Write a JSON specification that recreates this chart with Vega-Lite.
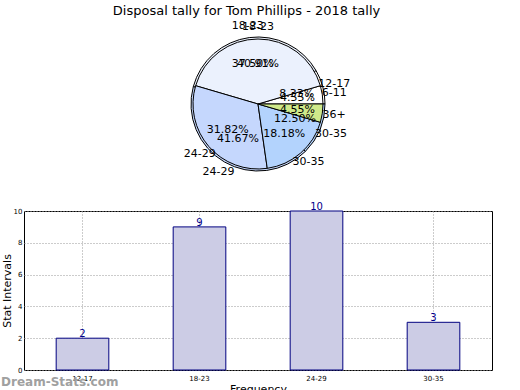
{
  "$schema": "https://vega.github.io/schema/vega-lite/v6.json",
  "padding": {"top": 4, "left": 0, "right": 0, "bottom": 0},
  "background": "white",
  "config": {"font": "DejaVu Sans", "view": {"stroke": null}},
  "title": {"text": "Disposal tally for Tom Phillips - 2018 tally", "fontSize": 13, "fontWeight": "normal", "anchor": "middle", "offset": 2, "color": "black", "font": "DejaVu Sans"},
  "bounds": "flush",
  "spacing": 31,
  "vconcat": [
    {
      "width": 468,
      "height": 152,
      "data": {"values": [
        {"set": "A", "cat": "12-17", "n": 2, "ord": 1, "pct": "8.33%"},
        {"set": "A", "cat": "18-23", "n": 9, "ord": 2, "pct": "37.50%"},
        {"set": "A", "cat": "24-29", "n": 10, "ord": 3, "pct": "41.67%"},
        {"set": "A", "cat": "30-35", "n": 3, "ord": 4, "pct": "12.50%"},
        {"set": "B", "cat": "6-11", "n": 1, "ord": 1, "pct": "4.55%"},
        {"set": "B", "cat": "18-23", "n": 9, "ord": 2, "pct": "40.91%"},
        {"set": "B", "cat": "24-29", "n": 7, "ord": 3, "pct": "31.82%"},
        {"set": "B", "cat": "30-35", "n": 4, "ord": 4, "pct": "18.18%"},
        {"set": "B", "cat": "36+", "n": 1, "ord": 5, "pct": "4.55%"}
      ]},
      "encoding": {
        "theta": {"field": "n", "type": "quantitative", "stack": "normalize", "scale": {"range": [1.5708, -4.7124]}},
        "order": {"field": "ord", "type": "quantitative"}
      },
      "layer": [
        {
          "transform": [{"filter": "datum.set === 'A'"}],
          "mark": {"type": "arc", "radius": 67, "stroke": "black", "strokeWidth": 1},
          "encoding": {"color": {"field": "cat", "type": "nominal", "legend": null, "scale": {"domain": ["12-17", "6-11", "18-23", "24-29", "30-35", "36+"], "range": ["#ffffff", "#ffffff", "#ebf1fd", "#c5d7fd", "#b3d3fd", "#cfe98a"]}}}
        },
        {
          "transform": [{"filter": "datum.set === 'B'"}],
          "mark": {"type": "arc", "radius": 65, "stroke": "black", "strokeWidth": 1},
          "encoding": {"color": {"field": "cat", "type": "nominal", "legend": null}}
        },
        {
          "transform": [{"filter": "datum.set === 'A'"}],
          "mark": {"type": "text", "radius": 40, "fontSize": 11, "color": "black"},
          "encoding": {"text": {"field": "pct"}}
        },
        {
          "transform": [{"filter": "datum.set === 'B'"}],
          "mark": {"type": "text", "radius": 40, "fontSize": 11, "color": "black"},
          "encoding": {"text": {"field": "pct"}}
        },
        {
          "transform": [{"filter": "datum.set === 'A'"}],
          "mark": {"type": "text", "radius": 79, "fontSize": 11, "color": "black"},
          "encoding": {"text": {"field": "cat"}}
        },
        {
          "transform": [{"filter": "datum.set === 'B'"}],
          "mark": {"type": "text", "radius": 77, "fontSize": 11, "color": "black"},
          "encoding": {"text": {"field": "cat"}}
        }
      ]
    },
    {
      "width": 468,
      "height": 159,
      "view": {"stroke": "black", "strokeWidth": 1},
      "title": {"text": "Dream-Stats.com", "orient": "bottom", "anchor": "start", "frame": "bounds", "offset": -17, "color": "#a0a0a0", "fontSize": 12, "fontWeight": "bold"},
      "data": {"values": [
        {"cat": "12-17", "n": 2},
        {"cat": "18-23", "n": 9},
        {"cat": "24-29", "n": 10},
        {"cat": "30-35", "n": 3}
      ]},
      "encoding": {
        "x": {"field": "cat", "type": "nominal", "sort": null, "scale": {"paddingInner": 0.55, "paddingOuter": 0.275},
          "axis": {"title": "Frequency", "titleFontSize": 11, "titleFontWeight": "normal", "titleColor": "black", "titlePadding": 2, "labelAngle": 0, "labelFontSize": 7, "labelColor": "black", "labelPadding": 4, "ticks": false, "domain": false, "grid": true, "gridDash": [1, 2], "gridColor": "#999999"}},
        "y": {"field": "n", "type": "quantitative", "scale": {"domain": [0, 10], "nice": false},
          "axis": {"title": "Stat Intervals", "titleFontSize": 11, "titleFontWeight": "normal", "titleColor": "black", "titlePadding": 1, "values": [0, 2, 4, 6, 8, 10], "labelFontSize": 7, "labelColor": "black", "labelPadding": 2, "ticks": false, "domain": false, "grid": true, "gridDash": [1, 2], "gridColor": "#999999"}}
      },
      "layer": [
        {"mark": {"type": "bar", "fill": "#ccccE5", "stroke": "#000080", "strokeWidth": 1}},
        {"mark": {"type": "text", "baseline": "bottom", "dy": 1, "color": "#00008b", "fontSize": 10}, "encoding": {"text": {"field": "n", "type": "quantitative"}}}
      ]
    }
  ]
}
